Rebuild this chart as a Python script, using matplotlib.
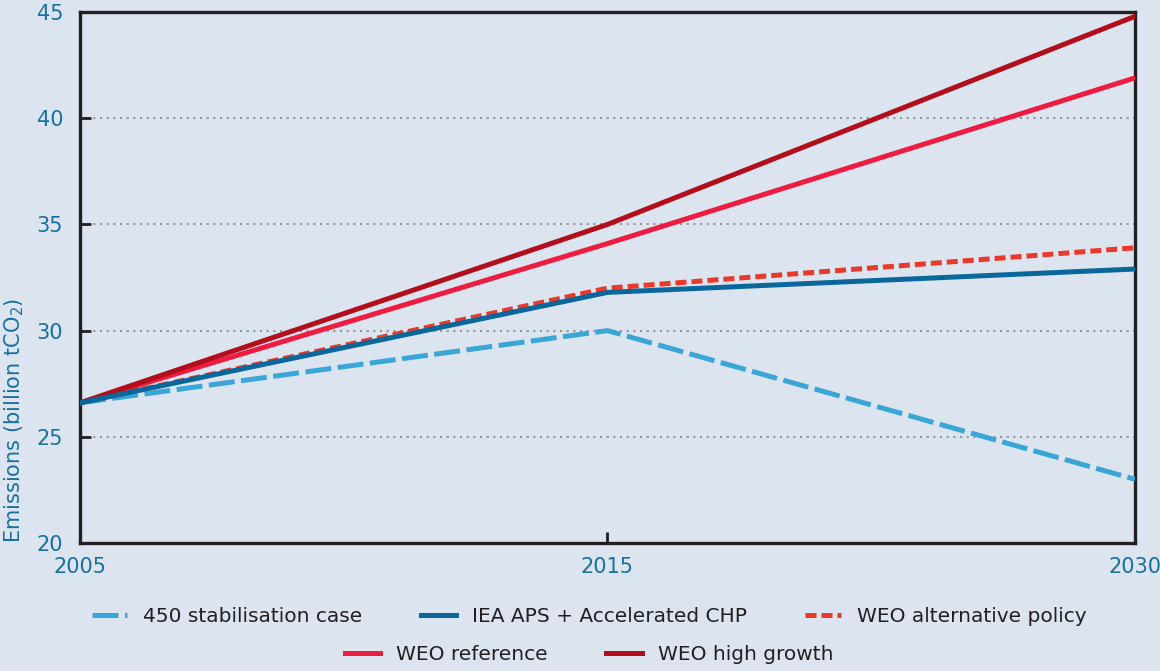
import matplotlib
matplotlib.use("Agg")
import matplotlib.pyplot as plt

years = ["2005", "2015", "2030"]
s450 = [26.6, 30.0, 23.0]
iea_aps = [26.6, 31.8, 32.9]
weo_alt = [26.6, 32.0, 33.9]
weo_ref = [26.6, 34.1, 41.9]
weo_high = [26.6, 35.0, 44.8]
yticks = [20, 25, 30, 35, 40, 45]

bg = "#dce5ef"
tickc = "#17709f"
fig = plt.figure(figsize=(11.6, 6.71), dpi=100, facecolor=bg)
ax = fig.add_axes([0.069, 0.1908, 0.9094, 0.7912], facecolor=bg)

x = list(range(len(years)))
lw = 3.6
ax.plot(x, s450, color="#3aa6d8", lw=lw, dashes=(5.2, 1.3), solid_capstyle="butt", label="450 stabilisation case", zorder=3)
ax.plot(x, iea_aps, color="#0a679c", lw=lw, label="IEA APS + Accelerated CHP", zorder=4)
ax.plot(x, weo_alt, color="#e8392b", lw=lw, dashes=(2.2, 1.0), label="WEO alternative policy", zorder=3)
ax.plot(x, weo_ref, color="#ee1c40", lw=lw, label="WEO reference", zorder=3)
ax.plot(x, weo_high, color="#b20e1b", lw=lw, label="WEO high growth", zorder=3)

ax.set_xlim(0, 2)
ax.set_ylim(20, 45)
ax.set_xticks(x)
ax.set_xticklabels(years)
ax.set_yticks(yticks)
ax.tick_params(axis="both", direction="in", length=8, width=2, colors="#231f20",
               labelcolor=tickc, labelsize=15)
ax.tick_params(axis="y", pad=12)
ax.tick_params(axis="x", pad=10)
for s in ax.spines.values():
    s.set_linewidth(2.4)
    s.set_color("#231f20")
for yv in yticks[1:-1]:
    ax.axhline(yv, color="#959595", lw=1.5, ls=(0, (1, 2.2)), zorder=1)

fig.text(14 / 1160, 1 - 420 / 671, r"Emissions (billion tCO$_2$)", color=tickc,
         fontsize=15, rotation=90, ha="center", va="center")

h, l = ax.get_legend_handles_labels()
common = dict(frameon=False, fontsize=14.5, handlelength=1.75, columnspacing=2.9,
              handletextpad=0.8, labelcolor="#231f20")
leg1 = fig.legend(h[:3], l[:3], loc="center", bbox_to_anchor=(589 / 1160, 1 - 617 / 671),
                  ncol=3, **common)
leg2 = fig.legend(h[3:], l[3:], loc="center", bbox_to_anchor=(589 / 1160, 1 - 655 / 671),
                  ncol=2, **common)

fig.savefig("out.png", dpi=100, facecolor=bg)
